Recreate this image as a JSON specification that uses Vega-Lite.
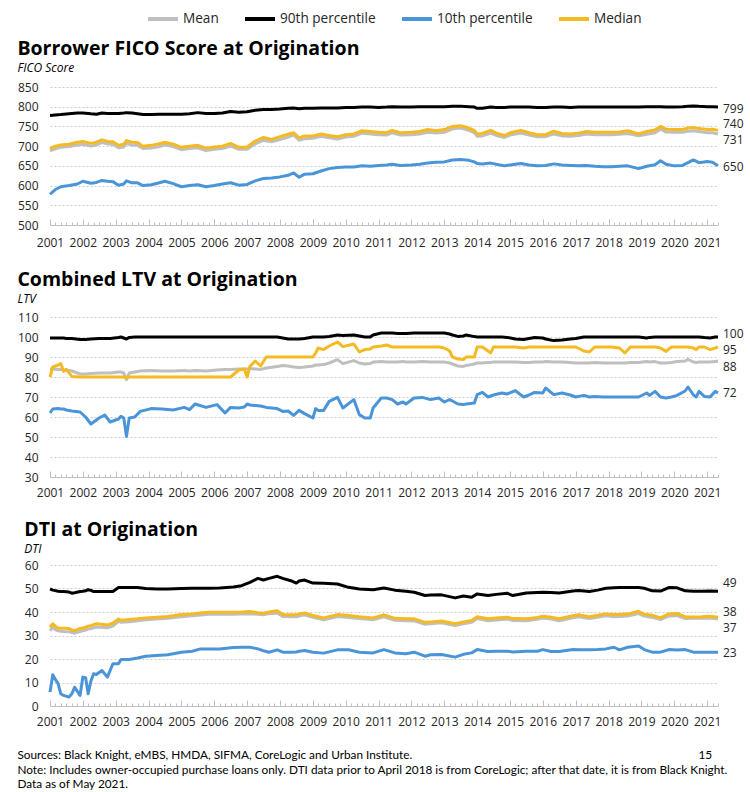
{
"$schema":"https://vega.github.io/schema/vega-lite/v6.json",
"padding":{"left":17,"top":2,"right":5,"bottom":2},
"datasets":{
"fico":[
{"date":"2001-01-01","mean":688,"p90":778,"p10":578,"median":694},
{"date":"2001-03-01","mean":693,"p90":779,"p10":590,"median":700},
{"date":"2001-05-01","mean":697,"p90":780,"p10":597,"median":703},
{"date":"2001-08-01","mean":699,"p90":782,"p10":600,"median":705},
{"date":"2001-11-01","mean":703,"p90":784,"p10":604,"median":710},
{"date":"2002-01-01","mean":705,"p90":784,"p10":611,"median":712},
{"date":"2002-04-01","mean":700,"p90":782,"p10":606,"median":707},
{"date":"2002-06-01","mean":703,"p90":781,"p10":608,"median":710},
{"date":"2002-08-01","mean":709,"p90":784,"p10":613,"median":716},
{"date":"2002-10-01","mean":706,"p90":783,"p10":611,"median":712},
{"date":"2002-12-01","mean":704,"p90":783,"p10":610,"median":711},
{"date":"2003-02-01","mean":696,"p90":783,"p10":601,"median":702},
{"date":"2003-04-01","mean":698,"p90":784,"p10":604,"median":705},
{"date":"2003-05-01","mean":707,"p90":785,"p10":612,"median":714},
{"date":"2003-07-01","mean":703,"p90":784,"p10":607,"median":710},
{"date":"2003-09-01","mean":702,"p90":782,"p10":607,"median":709},
{"date":"2003-11-01","mean":694,"p90":780,"p10":600,"median":700},
{"date":"2004-02-01","mean":695,"p90":780,"p10":602,"median":702},
{"date":"2004-05-01","mean":699,"p90":781,"p10":607,"median":706},
{"date":"2004-07-01","mean":703,"p90":781,"p10":611,"median":710},
{"date":"2004-10-01","mean":699,"p90":781,"p10":605,"median":705},
{"date":"2005-01-01","mean":691,"p90":781,"p10":597,"median":697},
{"date":"2005-04-01","mean":694,"p90":782,"p10":600,"median":700},
{"date":"2005-07-01","mean":696,"p90":785,"p10":602,"median":702},
{"date":"2005-10-01","mean":689,"p90":783,"p10":597,"median":695},
{"date":"2006-01-01","mean":692,"p90":783,"p10":600,"median":698},
{"date":"2006-04-01","mean":694,"p90":784,"p10":604,"median":700},
{"date":"2006-07-01","mean":700,"p90":788,"p10":607,"median":707},
{"date":"2006-10-01","mean":692,"p90":786,"p10":601,"median":697},
{"date":"2007-01-01","mean":692,"p90":787,"p10":603,"median":698},
{"date":"2007-04-01","mean":706,"p90":791,"p10":612,"median":713},
{"date":"2007-07-01","mean":715,"p90":793,"p10":618,"median":722},
{"date":"2007-10-01","mean":711,"p90":793,"p10":619,"median":717},
{"date":"2008-01-01","mean":717,"p90":794,"p10":622,"median":724},
{"date":"2008-04-01","mean":723,"p90":796,"p10":626,"median":730},
{"date":"2008-06-01","mean":728,"p90":797,"p10":632,"median":734},
{"date":"2008-08-01","mean":715,"p90":795,"p10":621,"median":721},
{"date":"2008-10-01","mean":719,"p90":796,"p10":629,"median":726},
{"date":"2009-01-01","mean":720,"p90":796,"p10":630,"median":726},
{"date":"2009-04-01","mean":725,"p90":797,"p10":637,"median":731},
{"date":"2009-07-01","mean":721,"p90":797,"p10":643,"median":727},
{"date":"2009-10-01","mean":718,"p90":797,"p10":646,"median":724},
{"date":"2010-01-01","mean":723,"p90":798,"p10":647,"median":729},
{"date":"2010-04-01","mean":725,"p90":798,"p10":647,"median":731},
{"date":"2010-07-01","mean":733,"p90":799,"p10":650,"median":739},
{"date":"2010-10-01","mean":731,"p90":799,"p10":649,"median":737},
{"date":"2011-01-01","mean":729,"p90":798,"p10":651,"median":735},
{"date":"2011-04-01","mean":728,"p90":799,"p10":652,"median":734},
{"date":"2011-06-01","mean":734,"p90":800,"p10":654,"median":740},
{"date":"2011-09-01","mean":728,"p90":799,"p10":651,"median":734},
{"date":"2012-01-01","mean":729,"p90":799,"p10":652,"median":735},
{"date":"2012-04-01","mean":731,"p90":800,"p10":654,"median":737},
{"date":"2012-07-01","mean":735,"p90":800,"p10":657,"median":742},
{"date":"2012-10-01","mean":733,"p90":800,"p10":659,"median":739},
{"date":"2013-01-01","mean":735,"p90":800,"p10":660,"median":742},
{"date":"2013-04-01","mean":744,"p90":801,"p10":665,"median":750},
{"date":"2013-07-01","mean":746,"p90":801,"p10":666,"median":752},
{"date":"2013-10-01","mean":740,"p90":800,"p10":664,"median":746},
{"date":"2013-12-01","mean":734,"p90":799,"p10":660,"median":740},
{"date":"2014-01-01","mean":725,"p90":796,"p10":656,"median":731},
{"date":"2014-03-01","mean":726,"p90":796,"p10":655,"median":732},
{"date":"2014-06-01","mean":733,"p90":799,"p10":657,"median":740},
{"date":"2014-08-01","mean":727,"p90":798,"p10":654,"median":733},
{"date":"2014-11-01","mean":722,"p90":798,"p10":650,"median":727},
{"date":"2015-01-01","mean":728,"p90":799,"p10":652,"median":734},
{"date":"2015-05-01","mean":733,"p90":799,"p10":656,"median":740},
{"date":"2015-08-01","mean":728,"p90":799,"p10":652,"median":734},
{"date":"2015-11-01","mean":724,"p90":798,"p10":650,"median":729},
{"date":"2016-02-01","mean":724,"p90":798,"p10":651,"median":729},
{"date":"2016-05-01","mean":731,"p90":799,"p10":655,"median":738},
{"date":"2016-08-01","mean":726,"p90":799,"p10":652,"median":732},
{"date":"2016-11-01","mean":725,"p90":798,"p10":651,"median":731},
{"date":"2017-02-01","mean":727,"p90":799,"p10":650,"median":733},
{"date":"2017-05-01","mean":731,"p90":799,"p10":651,"median":737},
{"date":"2017-08-01","mean":729,"p90":799,"p10":649,"median":735},
{"date":"2017-11-01","mean":729,"p90":799,"p10":648,"median":735},
{"date":"2018-02-01","mean":729,"p90":799,"p10":648,"median":735},
{"date":"2018-05-01","mean":730,"p90":799,"p10":649,"median":736},
{"date":"2018-08-01","mean":732,"p90":799,"p10":650,"median":739},
{"date":"2018-12-01","mean":726,"p90":799,"p10":643,"median":731},
{"date":"2019-03-01","mean":730,"p90":800,"p10":649,"median":737},
{"date":"2019-06-01","mean":734,"p90":800,"p10":653,"median":741},
{"date":"2019-08-01","mean":743,"p90":800,"p10":663,"median":750},
{"date":"2019-10-01","mean":736,"p90":799,"p10":654,"median":743},
{"date":"2020-01-01","mean":735,"p90":799,"p10":650,"median":742},
{"date":"2020-04-01","mean":735,"p90":800,"p10":651,"median":742},
{"date":"2020-06-01","mean":738,"p90":801,"p10":658,"median":746},
{"date":"2020-08-01","mean":739,"p90":802,"p10":665,"median":747},
{"date":"2020-10-01","mean":737,"p90":801,"p10":658,"median":745},
{"date":"2021-01-01","mean":734,"p90":800,"p10":661,"median":742},
{"date":"2021-03-01","mean":734,"p90":800,"p10":659,"median":743},
{"date":"2021-05-01","mean":731,"p90":799,"p10":650,"median":740}
],
"ltv":[
{"date":"2001-01-01","mean":84.0,"p90":99.5,"p10":62,"median":80},
{"date":"2001-02-01","mean":84.0,"p90":99.5,"p10":64,"median":85},
{"date":"2001-04-01","mean":83.8,"p90":99.5,"p10":64.2,"median":86},
{"date":"2001-05-01","mean":83.8,"p90":99.5,"p10":64,"median":86.7},
{"date":"2001-06-01","mean":83.5,"p90":99.5,"p10":64,"median":82.8},
{"date":"2001-07-01","mean":83.5,"p90":99.3,"p10":63.5,"median":83.8},
{"date":"2001-09-01","mean":83.0,"p90":99.3,"p10":63,"median":80.3},
{"date":"2001-12-01","mean":81.5,"p90":98.8,"p10":62.5,"median":80},
{"date":"2002-02-01","mean":81.5,"p90":98.7,"p10":60,"median":80},
{"date":"2002-04-01","mean":81.8,"p90":99,"p10":56.5,"median":80},
{"date":"2002-07-01","mean":82,"p90":99.2,"p10":59.5,"median":80},
{"date":"2002-09-01","mean":82,"p90":99.3,"p10":61,"median":80},
{"date":"2002-11-01","mean":82,"p90":99.3,"p10":57.5,"median":80},
{"date":"2003-02-01","mean":82.5,"p90":99.8,"p10":59,"median":80},
{"date":"2003-03-01","mean":82.5,"p90":100,"p10":60.3,"median":80},
{"date":"2003-04-01","mean":82,"p90":99.5,"p10":59.5,"median":80},
{"date":"2003-05-01","mean":78.7,"p90":99,"p10":50.3,"median":79.5},
{"date":"2003-06-01","mean":82,"p90":99.8,"p10":59.5,"median":80},
{"date":"2003-08-01","mean":82.5,"p90":100,"p10":60,"median":80},
{"date":"2003-10-01","mean":83,"p90":100,"p10":62.8,"median":80},
{"date":"2004-02-01","mean":83.2,"p90":100,"p10":64.2,"median":80},
{"date":"2004-06-01","mean":83,"p90":100,"p10":64,"median":80},
{"date":"2004-10-01","mean":83,"p90":100,"p10":63.5,"median":80},
{"date":"2005-02-01","mean":83.2,"p90":100,"p10":64.8,"median":80},
{"date":"2005-04-01","mean":83,"p90":100,"p10":63.7,"median":80},
{"date":"2005-06-01","mean":83.3,"p90":100,"p10":66.5,"median":80},
{"date":"2005-10-01","mean":83,"p90":100,"p10":64.8,"median":80},
{"date":"2006-02-01","mean":83.5,"p90":100,"p10":66.2,"median":80},
{"date":"2006-05-01","mean":83.7,"p90":100,"p10":62,"median":80},
{"date":"2006-07-01","mean":83.8,"p90":100,"p10":64.8,"median":80},
{"date":"2006-10-01","mean":84,"p90":100,"p10":64.5,"median":83.5},
{"date":"2006-12-01","mean":84,"p90":100,"p10":65,"median":84},
{"date":"2007-01-01","mean":84,"p90":100,"p10":66.5,"median":80},
{"date":"2007-02-01","mean":84.2,"p90":100,"p10":66,"median":85.3},
{"date":"2007-04-01","mean":84,"p90":100,"p10":65.8,"median":88},
{"date":"2007-06-01","mean":83.8,"p90":100,"p10":65.5,"median":85.5},
{"date":"2007-08-01","mean":84.5,"p90":100,"p10":64.8,"median":90},
{"date":"2007-12-01","mean":85.3,"p90":100,"p10":64.2,"median":90},
{"date":"2008-02-01","mean":85.7,"p90":99.5,"p10":62.8,"median":90},
{"date":"2008-04-01","mean":85.5,"p90":99,"p10":63,"median":90},
{"date":"2008-06-01","mean":85,"p90":99,"p10":60.8,"median":90},
{"date":"2008-08-01","mean":84.8,"p90":99,"p10":63.3,"median":90},
{"date":"2008-10-01","mean":85,"p90":99.3,"p10":61.7,"median":90},
{"date":"2009-01-01","mean":85.5,"p90":100,"p10":59.5,"median":90},
{"date":"2009-02-01","mean":86,"p90":100,"p10":64.2,"median":92},
{"date":"2009-03-01","mean":86,"p90":100,"p10":63.3,"median":94.5},
{"date":"2009-05-01","mean":86.2,"p90":100,"p10":63.3,"median":93.7},
{"date":"2009-07-01","mean":87,"p90":100.3,"p10":67.8,"median":95.5},
{"date":"2009-10-01","mean":88.7,"p90":101,"p10":69.8,"median":97.5},
{"date":"2009-12-01","mean":86.7,"p90":100.8,"p10":64.5,"median":95.2},
{"date":"2010-04-01","mean":88.2,"p90":101,"p10":68.7,"median":96.5},
{"date":"2010-06-01","mean":87,"p90":100.5,"p10":61.2,"median":92.5},
{"date":"2010-08-01","mean":86.5,"p90":100,"p10":59.5,"median":93.7},
{"date":"2010-10-01","mean":86.7,"p90":100,"p10":59.5,"median":94},
{"date":"2010-11-01","mean":87.5,"p90":101,"p10":64.5,"median":95},
{"date":"2011-02-01","mean":87.8,"p90":102,"p10":69.5,"median":95.5},
{"date":"2011-04-01","mean":87.5,"p90":102,"p10":69.5,"median":96},
{"date":"2011-06-01","mean":87.5,"p90":102,"p10":68.7,"median":95},
{"date":"2011-08-01","mean":87.5,"p90":101.8,"p10":66.5,"median":95},
{"date":"2011-10-01","mean":87.8,"p90":101.8,"p10":67.5,"median":95},
{"date":"2011-11-01","mean":87.5,"p90":101.7,"p10":66.5,"median":95},
{"date":"2012-02-01","mean":87.5,"p90":102,"p10":69.5,"median":95},
{"date":"2012-05-01","mean":87.8,"p90":102,"p10":69.8,"median":95},
{"date":"2012-08-01","mean":87.5,"p90":102,"p10":68.7,"median":95},
{"date":"2012-11-01","mean":87.5,"p90":102,"p10":69.5,"median":95},
{"date":"2013-01-01","mean":87.5,"p90":102,"p10":67.5,"median":94.5},
{"date":"2013-03-01","mean":87,"p90":101.5,"p10":68.7,"median":93},
{"date":"2013-04-01","mean":86.5,"p90":101,"p10":68,"median":90},
{"date":"2013-06-01","mean":85.5,"p90":100.3,"p10":66.5,"median":89},
{"date":"2013-08-01","mean":85.3,"p90":100.5,"p10":66.2,"median":88.7},
{"date":"2013-09-01","mean":85.8,"p90":101,"p10":66.5,"median":90},
{"date":"2013-12-01","mean":86.5,"p90":100.2,"p10":67,"median":90},
{"date":"2014-01-01","mean":87,"p90":100,"p10":71.2,"median":95},
{"date":"2014-03-01","mean":87,"p90":100,"p10":72.3,"median":95},
{"date":"2014-05-01","mean":87.3,"p90":100,"p10":70,"median":93},
{"date":"2014-06-01","mean":87.3,"p90":100,"p10":70.5,"median":92},
{"date":"2014-07-01","mean":87.5,"p90":100,"p10":71,"median":95},
{"date":"2014-10-01","mean":87.5,"p90":100,"p10":72,"median":95},
{"date":"2014-12-01","mean":87.5,"p90":99.8,"p10":71.5,"median":95},
{"date":"2015-03-01","mean":87.5,"p90":99,"p10":73.2,"median":95},
{"date":"2015-06-01","mean":87.2,"p90":98.8,"p10":70,"median":94.5},
{"date":"2015-08-01","mean":87.3,"p90":99.3,"p10":71,"median":95},
{"date":"2015-10-01","mean":87.5,"p90":99.7,"p10":72.3,"median":95},
{"date":"2016-01-01","mean":87.5,"p90":99.5,"p10":72,"median":95},
{"date":"2016-02-01","mean":87.7,"p90":99,"p10":74.5,"median":95},
{"date":"2016-05-01","mean":87.5,"p90":98.2,"p10":71.2,"median":95},
{"date":"2016-08-01","mean":87.5,"p90":98.5,"p10":72,"median":95},
{"date":"2016-11-01","mean":87.2,"p90":99,"p10":71,"median":95},
{"date":"2017-01-01","mean":87,"p90":99.3,"p10":70,"median":95},
{"date":"2017-04-01","mean":87,"p90":100,"p10":70.8,"median":93},
{"date":"2017-06-01","mean":87,"p90":100,"p10":70,"median":92.5},
{"date":"2017-08-01","mean":87.2,"p90":100,"p10":70.2,"median":95},
{"date":"2017-11-01","mean":87,"p90":100,"p10":70,"median":95},
{"date":"2018-02-01","mean":87,"p90":100,"p10":70,"median":95},
{"date":"2018-05-01","mean":87,"p90":100,"p10":70,"median":94.5},
{"date":"2018-07-01","mean":87,"p90":100,"p10":70,"median":92},
{"date":"2018-09-01","mean":87.2,"p90":100,"p10":70,"median":95},
{"date":"2018-12-01","mean":87.3,"p90":100,"p10":70,"median":95},
{"date":"2019-03-01","mean":87.7,"p90":99.5,"p10":72,"median":95},
{"date":"2019-04-01","mean":87.5,"p90":99.8,"p10":70.8,"median":95},
{"date":"2019-06-01","mean":87.7,"p90":100,"p10":72.8,"median":95},
{"date":"2019-08-01","mean":87,"p90":100,"p10":70,"median":94.5},
{"date":"2019-10-01","mean":87,"p90":100,"p10":69.5,"median":92.8},
{"date":"2019-12-01","mean":87.3,"p90":100,"p10":70,"median":95},
{"date":"2020-02-01","mean":87.8,"p90":100,"p10":70.8,"median":95},
{"date":"2020-05-01","mean":88,"p90":100,"p10":73,"median":95},
{"date":"2020-06-01","mean":88.8,"p90":100,"p10":75,"median":95},
{"date":"2020-08-01","mean":87.5,"p90":100,"p10":71,"median":94.5},
{"date":"2020-09-01","mean":87.3,"p90":100,"p10":70,"median":93.7},
{"date":"2020-10-01","mean":87.5,"p90":100,"p10":72.8,"median":95},
{"date":"2020-12-01","mean":87.5,"p90":99.7,"p10":70.3,"median":95},
{"date":"2021-02-01","mean":87.5,"p90":99.5,"p10":70,"median":93.7},
{"date":"2021-04-01","mean":87.7,"p90":100,"p10":72.8,"median":94.5},
{"date":"2021-05-01","mean":88,"p90":100,"p10":72,"median":95}
],
"dti":[
{"date":"2001-01-01","mean":32.0,"p90":49.8,"p10":5.9,"median":33.5},
{"date":"2001-02-01","mean":33.5,"p90":49.3,"p10":13.3,"median":35.0},
{"date":"2001-03-01","mean":32.5,"p90":49.1,"p10":11.3,"median":34.0},
{"date":"2001-04-01","mean":32.0,"p90":48.8,"p10":9.5,"median":33.1},
{"date":"2001-05-01","mean":31.8,"p90":48.7,"p10":5.2,"median":33.1},
{"date":"2001-06-01","mean":31.7,"p90":48.7,"p10":4.5,"median":33.1},
{"date":"2001-08-01","mean":31.6,"p90":48.5,"p10":3.8,"median":33.0},
{"date":"2001-09-01","mean":31.3,"p90":48.0,"p10":5.2,"median":32.3},
{"date":"2001-10-01","mean":31.0,"p90":48.2,"p10":8.0,"median":32.1},
{"date":"2001-12-01","mean":31.7,"p90":48.7,"p10":4.5,"median":33.0},
{"date":"2002-01-01","mean":32.0,"p90":48.8,"p10":12.3,"median":33.2},
{"date":"2002-02-01","mean":32.3,"p90":49.0,"p10":12.0,"median":33.5},
{"date":"2002-03-01","mean":32.7,"p90":49.5,"p10":5.2,"median":34.0},
{"date":"2002-04-01","mean":33.0,"p90":49.2,"p10":10.6,"median":34.2},
{"date":"2002-05-01","mean":33.3,"p90":48.7,"p10":13.7,"median":34.6},
{"date":"2002-06-01","mean":33.6,"p90":48.7,"p10":13.4,"median":35.0},
{"date":"2002-08-01","mean":33.5,"p90":48.7,"p10":15.1,"median":34.8},
{"date":"2002-10-01","mean":33.3,"p90":48.7,"p10":12.3,"median":34.5},
{"date":"2002-12-01","mean":34.0,"p90":48.7,"p10":18.0,"median":35.2},
{"date":"2003-02-01","mean":36.0,"p90":50.4,"p10":18.0,"median":37.0},
{"date":"2003-03-01","mean":35.6,"p90":50.4,"p10":19.8,"median":36.5},
{"date":"2003-06-01","mean":35.9,"p90":50.4,"p10":19.8,"median":36.8},
{"date":"2003-09-01","mean":36.3,"p90":50.4,"p10":20.4,"median":37.1},
{"date":"2003-12-01","mean":36.7,"p90":50.0,"p10":21.2,"median":37.5},
{"date":"2004-04-01","mean":37.0,"p90":49.8,"p10":21.5,"median":37.8},
{"date":"2004-08-01","mean":37.3,"p90":49.8,"p10":21.8,"median":38.1},
{"date":"2005-01-01","mean":38.0,"p90":50.0,"p10":22.9,"median":38.9},
{"date":"2005-05-01","mean":38.4,"p90":50.1,"p10":23.3,"median":39.2},
{"date":"2005-08-01","mean":38.7,"p90":50.1,"p10":24.3,"median":39.6},
{"date":"2005-11-01","mean":39.0,"p90":50.1,"p10":24.3,"median":39.9},
{"date":"2006-03-01","mean":39.0,"p90":50.2,"p10":24.3,"median":39.9},
{"date":"2006-08-01","mean":39.0,"p90":50.6,"p10":24.9,"median":39.9},
{"date":"2006-11-01","mean":39.2,"p90":51.2,"p10":25.0,"median":40.0},
{"date":"2007-02-01","mean":39.3,"p90":52.6,"p10":25.0,"median":40.2},
{"date":"2007-05-01","mean":39.0,"p90":54.3,"p10":24.3,"median":39.7},
{"date":"2007-07-01","mean":38.8,"p90":53.6,"p10":23.5,"median":39.5},
{"date":"2007-09-01","mean":39.3,"p90":54.3,"p10":22.9,"median":40.0},
{"date":"2007-12-01","mean":39.6,"p90":55.2,"p10":23.9,"median":40.5},
{"date":"2008-02-01","mean":38.1,"p90":54.3,"p10":22.9,"median":38.9},
{"date":"2008-05-01","mean":38.0,"p90":53.3,"p10":22.9,"median":38.8},
{"date":"2008-07-01","mean":38.0,"p90":52.3,"p10":23.0,"median":38.8},
{"date":"2008-08-01","mean":38.3,"p90":53.2,"p10":23.3,"median":39.2},
{"date":"2008-10-01","mean":38.8,"p90":53.6,"p10":23.6,"median":39.6},
{"date":"2009-01-01","mean":37.7,"p90":52.3,"p10":22.9,"median":38.5},
{"date":"2009-05-01","mean":36.7,"p90":52.2,"p10":22.5,"median":37.5},
{"date":"2009-10-01","mean":38.1,"p90":51.9,"p10":23.9,"median":38.9},
{"date":"2010-02-01","mean":37.7,"p90":50.5,"p10":23.9,"median":38.5},
{"date":"2010-06-01","mean":37.2,"p90":49.8,"p10":22.9,"median":38.0},
{"date":"2010-11-01","mean":36.7,"p90":49.5,"p10":22.6,"median":37.5},
{"date":"2011-03-01","mean":38.0,"p90":50.2,"p10":24.0,"median":38.8},
{"date":"2011-07-01","mean":36.5,"p90":49.3,"p10":22.6,"median":37.3},
{"date":"2011-11-01","mean":36.3,"p90":48.8,"p10":22.2,"median":37.1},
{"date":"2012-02-01","mean":36.2,"p90":48.4,"p10":22.9,"median":37.1},
{"date":"2012-06-01","mean":34.8,"p90":47.0,"p10":21.2,"median":35.6},
{"date":"2012-08-01","mean":35.0,"p90":47.2,"p10":21.8,"median":35.8},
{"date":"2012-12-01","mean":35.4,"p90":47.3,"p10":21.9,"median":36.2},
{"date":"2013-05-01","mean":34.2,"p90":46.0,"p10":20.8,"median":35.0},
{"date":"2013-08-01","mean":35.0,"p90":46.8,"p10":22.0,"median":35.8},
{"date":"2013-11-01","mean":35.6,"p90":46.3,"p10":22.6,"median":36.4},
{"date":"2014-01-01","mean":37.2,"p90":47.7,"p10":24.0,"median":38.0},
{"date":"2014-05-01","mean":36.3,"p90":47.0,"p10":23.2,"median":37.1},
{"date":"2014-08-01","mean":36.6,"p90":47.5,"p10":23.3,"median":37.4},
{"date":"2014-12-01","mean":37.0,"p90":48.0,"p10":23.3,"median":37.8},
{"date":"2015-02-01","mean":36.4,"p90":47.0,"p10":23.0,"median":37.2},
{"date":"2015-07-01","mean":36.3,"p90":48.1,"p10":23.3,"median":37.1},
{"date":"2015-11-01","mean":36.9,"p90":48.3,"p10":23.3,"median":37.7},
{"date":"2016-01-01","mean":37.4,"p90":48.4,"p10":24.0,"median":38.2},
{"date":"2016-04-01","mean":37.0,"p90":48.3,"p10":23.2,"median":37.8},
{"date":"2016-07-01","mean":36.3,"p90":48.1,"p10":23.2,"median":37.1},
{"date":"2016-12-01","mean":37.5,"p90":48.9,"p10":24.0,"median":38.4},
{"date":"2017-02-01","mean":38.0,"p90":49.1,"p10":23.9,"median":38.8},
{"date":"2017-06-01","mean":37.2,"p90":48.7,"p10":23.9,"median":38.0},
{"date":"2017-09-01","mean":37.8,"p90":49.3,"p10":24.0,"median":38.6},
{"date":"2017-12-01","mean":38.4,"p90":50.1,"p10":24.3,"median":39.2},
{"date":"2018-03-01","mean":38.0,"p90":50.3,"p10":25.0,"median":38.9},
{"date":"2018-05-01","mean":38.1,"p90":50.4,"p10":23.9,"median":38.9},
{"date":"2018-08-01","mean":38.3,"p90":50.4,"p10":25.0,"median":39.1},
{"date":"2018-12-01","mean":39.3,"p90":50.4,"p10":25.5,"median":40.3},
{"date":"2019-02-01","mean":38.3,"p90":50.1,"p10":24.0,"median":39.0},
{"date":"2019-05-01","mean":37.7,"p90":49.0,"p10":22.9,"median":38.6},
{"date":"2019-08-01","mean":36.8,"p90":48.9,"p10":22.9,"median":37.5},
{"date":"2019-11-01","mean":38.2,"p90":50.4,"p10":24.0,"median":39.2},
{"date":"2020-02-01","mean":38.5,"p90":50.3,"p10":23.8,"median":39.4},
{"date":"2020-05-01","mean":37.2,"p90":49.0,"p10":24.0,"median":37.9},
{"date":"2020-08-01","mean":37.3,"p90":48.8,"p10":22.9,"median":37.9},
{"date":"2020-11-01","mean":37.3,"p90":48.8,"p10":22.9,"median":38.0},
{"date":"2021-02-01","mean":37.4,"p90":48.9,"p10":22.9,"median":38.2},
{"date":"2021-05-01","mean":37.0,"p90":48.8,"p10":22.9,"median":37.8}
]
},
"title":{"text":["Sources: Black Knight, eMBS, HMDA, SIFMA, CoreLogic and Urban Institute.\u2003\u2003\u2003\u2003\u2003\u2003\u2003\u2003\u2003\u2003\u2003\u2003\u2003\u2003\u2003\u2003\u2003\u2003\u2003\u2003\u2003\u2003\u2003\u2003\u2003\u2003\u2003\u2003\u2003\u2003\u2003\u2003 15","Note: Includes owner-occupied purchase loans only. DTI data prior to April 2018 is from CoreLogic; after that date, it is from Black Knight.","Data as of May 2021."],"orient":"bottom","anchor":"start","frame":"bounds","font":"Lato","fontSize":11.8,"fontWeight":"normal","color":"#000000","lineHeight":14.5,"offset":20},
"spacing":18,
"resolve":{"scale":{"color":"shared","x":"independent","y":"independent"}},
"vconcat":[
{
"width":668,"height":138,
"title":{"text":"Borrower FICO Score at Origination","subtitle":"FICO Score","offset":6,"subtitlePadding":4},
"data":{"name":"fico"},
"transform":[{"fold":["mean","p90","p10","median"],"as":["series","value"]}],
"encoding":{
"x":{"field":"date","type":"temporal","scale":{"nice":false},"axis":{"labelPadding":18,"tickCount":{"interval":"month","step":2},"labelExpr":"month(datum.value) === 0 ? timeFormat(datum.value, '%Y') : ''","tickSize":{"condition":{"test":"month(datum.value) === 0","value":-6},"value":-3}}},
"y":{"field":"value","type":"quantitative","scale":{"domain":[500,850],"nice":false,"zero":false},"axis":{"values":[500,550,600,650,700,750,800,850]}}
},
"layer":[
{"mark":{"type":"line","strokeWidth":3,"strokeJoin":"round"},"encoding":{"color":{"field":"series","type":"nominal","scale":{"domain":["mean","p90","p10","median"],"range":["#BFBFBF","#000000","#4A94D8","#F5B921"]},"legend":{"labelExpr":"datum.label === 'mean' ? 'Mean' : datum.label === 'p90' ? '90th percentile' : datum.label === 'p10' ? '10th percentile' : 'Median'"}}}},
{"transform":[{"filter":"utcyear(toDate(datum.date)) === 2021 && utcmonth(toDate(datum.date)) === 4"}],"mark":{"type":"text","align":"left","dx":5,"fontSize":12,"color":"#262626","dy":{"expr":"datum.series === 'median' ? -6 : datum.series === 'mean' ? 6 : datum.series === 'p90' ? 2 : 1"}},"encoding":{"text":{"field":"value","type":"quantitative","format":".0f"}}}
]
},
{
"width":668,"height":160,
"title":{"text":"Combined LTV at Origination","subtitle":"LTV","offset":5,"subtitlePadding":4},
"data":{"name":"ltv"},
"transform":[{"fold":["mean","p90","p10","median"],"as":["series","value"]}],
"encoding":{
"x":{"field":"date","type":"temporal","scale":{"nice":false},"axis":{"tickCount":{"interval":"month","step":2},"labelExpr":"month(datum.value) === 0 ? timeFormat(datum.value, '%Y') : ''","tickSize":{"condition":{"test":"month(datum.value) === 0","value":-6},"value":-3}}},
"y":{"field":"value","type":"quantitative","scale":{"domain":[30,110],"nice":false,"zero":false},"axis":{"values":[30,40,50,60,70,80,90,100,110]}}
},
"layer":[
{"mark":{"type":"line","strokeWidth":3,"strokeJoin":"round"},"encoding":{"color":{"field":"series","type":"nominal"}}},
{"transform":[{"filter":"utcyear(toDate(datum.date)) === 2021 && utcmonth(toDate(datum.date)) === 4"}],"mark":{"type":"text","align":"left","dx":5,"fontSize":12,"color":"#262626","dy":{"expr":"datum.series === 'median' ? 3 : datum.series === 'mean' ? 6 : datum.series === 'p90' ? -3 : 0"}},"encoding":{"text":{"field":"value","type":"quantitative","format":".0f"}}}
]
},
{
"width":668,"height":141,
"title":{"text":"DTI at Origination","subtitle":"DTI","offset":3,"subtitlePadding":4},
"data":{"name":"dti"},
"transform":[{"fold":["mean","p90","p10","median"],"as":["series","value"]}],
"encoding":{
"x":{"field":"date","type":"temporal","scale":{"nice":false},"axis":{"tickCount":{"interval":"month","step":2},"labelExpr":"month(datum.value) === 0 ? timeFormat(datum.value, '%Y') : ''","tickSize":{"condition":{"test":"month(datum.value) === 0","value":-6},"value":-3}}},
"y":{"field":"value","type":"quantitative","scale":{"domain":[0,60],"nice":false},"axis":{"values":[0,10,20,30,40,50,60]}}
},
"layer":[
{"mark":{"type":"line","strokeWidth":3,"strokeJoin":"round"},"encoding":{"color":{"field":"series","type":"nominal"}}},
{"transform":[{"filter":"utcyear(toDate(datum.date)) === 2021 && utcmonth(toDate(datum.date)) === 4"}],"mark":{"type":"text","align":"left","dx":5,"fontSize":12,"color":"#262626","dy":{"expr":"datum.series === 'p90' ? -8 : datum.series === 'median' ? -5 : datum.series === 'mean' ? 9 : 1"}},"encoding":{"text":{"field":"value","type":"quantitative","format":".0f"}}}
]
}
],
"config":{
"view":{"stroke":null},
"font":"Open Sans",
"title":{"anchor":"start","frame":"bounds","font":"Open Sans","fontSize":19.5,"fontWeight":"bold","color":"#000000","subtitleFont":"Open Sans","subtitleFontSize":12,"subtitleFontStyle":"italic","subtitleColor":"#000000"},
"axisX":{"title":null,"grid":false,"domainColor":"#BFBFBF","tickColor":"#BFBFBF","labelFontSize":12,"labelColor":"#262626","labelFlush":false,"labelOverlap":false,"labelPadding":16},
"axisY":{"title":null,"grid":true,"gridDash":[2,2],"gridColor":"#CCCCCC","domain":false,"ticks":false,"labelFontSize":12,"labelColor":"#262626","labelPadding":12},
"legend":{"orient":"none","legendX":96,"legendY":-85,"direction":"horizontal","title":null,"symbolType":"stroke","symbolStrokeWidth":4,"symbolSize":900,"labelFontSize":13.6,"labelFont":"Open Sans","labelColor":"#262626","columnPadding":18,"labelOffset":3}
}
}
